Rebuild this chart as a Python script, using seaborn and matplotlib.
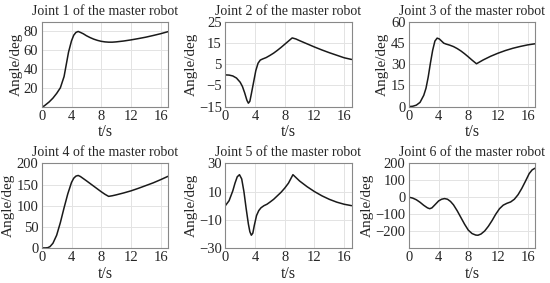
import numpy as np
import pandas as pd
import matplotlib
import matplotlib.pyplot as plt
import seaborn as sns

# values (t in s, angle in deg)
t1 = [0, 0.3, 1, 1.5, 2, 2.5, 3, 3.3, 3.6, 4, 4.3, 4.6, 4.9, 5.2, 5.6, 6, 6.5, 7, 7.5, 8, 8.5, 9, 9.5, 10, 11, 12, 13, 14, 15, 16, 17]
j1 = [0, 0.5, 5, 9, 14, 20, 32, 45, 58, 70, 76, 79, 80, 79, 77.5, 75.5, 73.5, 71.8, 70.5, 69.5, 68.9, 68.6, 68.6, 68.9, 69.8, 71, 72.4, 73.9, 75.7, 77.6, 79.8]

t2 = [0, 0.5, 1, 1.5, 2, 2.3, 2.6, 2.9, 3.1, 3.3, 3.5, 3.8, 4.1, 4.4, 4.7, 5, 5.5, 6, 6.5, 7, 7.5, 8, 8.5, 9, 9.5, 10, 11, 12, 13, 14, 15, 16, 17]
j2 = [0, -0.1, -0.5, -1.5, -3.5, -5.5, -8.5, -12, -13.4, -12.5, -9, -3.5, 2, 5.5, 7, 7.5, 8.2, 9.2, 10.3, 11.6, 13, 14.5, 16, 17.5, 17, 16.2, 14.7, 13.2, 11.8, 10.5, 9.3, 8.1, 7.3]

t3 = [0, 0.5, 1, 1.5, 2, 2.3, 2.6, 2.9, 3.2, 3.5, 3.8, 4.1, 4.4, 4.7, 5, 5.5, 6, 6.5, 7, 7.5, 8, 8.5, 9.1, 9.5, 10, 11, 12, 13, 14, 15, 16, 17]
j3 = [0, 0.2, 1, 3, 8, 13, 21, 31, 40, 46.5, 48.6, 48, 46.5, 45, 44.4, 43.6, 42.6, 41.2, 39.5, 37.5, 35.3, 33, 30.4, 31.6, 33.1, 35.7, 37.9, 39.8, 41.4, 42.7, 43.8, 44.6]

t4 = [0, 0.5, 0.8, 1.1, 1.5, 2, 2.5, 3, 3.5, 4, 4.3, 4.6, 4.9, 5.2, 5.6, 6, 6.5, 7, 7.5, 8, 8.5, 9, 9.5, 10, 11, 12, 13, 14, 15, 16, 17]
j4 = [0, 0, 0.5, 3, 11, 30, 60, 95, 128, 155, 165, 170, 171.5, 169, 164, 159, 152.5, 146, 139.5, 133, 127, 122, 123.5, 125.5, 130, 135, 141, 147.5, 154, 161.5, 169.5]

t5 = [0, 0.5, 1, 1.3, 1.6, 1.9, 2.2, 2.5, 2.8, 3.1, 3.3, 3.5, 3.7, 3.9, 4.2, 4.5, 4.8, 5.2, 5.6, 6, 6.5, 7, 7.5, 8, 8.5, 9.1, 9.5, 10, 11, 12, 13, 14, 15, 16, 17]
j5 = [0, 3.5, 10.5, 16, 20.5, 22, 19, 10, -2, -13, -18.5, -21, -19.5, -14, -7, -3.5, -1.5, 0, 1, 2.5, 4.5, 7, 9.5, 12.5, 16, 22, 20, 17.5, 13.5, 10, 7, 4.5, 2.5, 1, 0]

t6 = [0, 0.5, 1, 1.5, 2, 2.5, 2.8, 3.1, 3.5, 4, 4.4, 4.8, 5.2, 5.6, 6, 6.5, 7, 7.5, 8, 8.5, 9, 9.3, 9.7, 10.2, 10.7, 11.2, 11.7, 12.2, 12.7, 13.2, 13.7, 14.2, 14.7, 15.2, 15.7, 16.2, 16.6, 17]
j6 = [0, -5, -15, -30, -48, -63, -68, -63, -45, -22, -12, -8, -12, -25, -45, -80, -120, -160, -195, -215, -224, -225, -218, -200, -172, -138, -100, -68, -47, -36, -28, -12, 15, 52, 95, 140, 162, 172]

series = [(t1, j1), (t2, j2), (t3, j3), (t4, j4), (t5, j5), (t6, j6)]
ylims = [(0, 90), (-15, 25), (0, 60), (0, 200), (-30, 30), (-300, 200)]
yticks = [[20, 40, 60, 80], [-15, -5, 5, 15, 25], [0, 15, 30, 45, 60],
          [0, 50, 100, 150, 200], [-30, -10, 10, 30], [-200, -100, 0, 100, 200]]
xticks = [0, 4, 8, 12, 16]

sns.set_style("whitegrid")
plt.rcParams['font.family'] = ['Liberation Serif', 'DejaVu Serif']

fig, axs = plt.subplots(2, 3, figsize=(5.5, 2.83), dpi=100)
fig.subplots_adjust(left=0.076, right=0.973, top=0.922, bottom=0.124, wspace=0.454, hspace=0.673)

for i, ax in enumerate(axs.flat):
    t, j = series[i]
    df = pd.DataFrame({'t': t, 'angle': j})
    sns.lineplot(data=df, x='t', y='angle', ax=ax, color='#1a1a1a', linewidth=1.1)
    ax.set_xlim(0, 17)
    ax.set_ylim(*ylims[i])
    ax.set_xticks(xticks)
    ax.set_yticks(yticks[i])
    ax.set_yticklabels([str(v).replace('-', '\u2212') for v in yticks[i]])
    ax.set_title(f'Joint {i + 1} of the master robot', fontsize=10, pad=5)
    ax.set_xlabel('t/s', fontsize=11.5, labelpad=1)
    ax.set_ylabel('Angle/deg', fontsize=11, labelpad=1)
    ax.tick_params(labelsize=10.5, length=0, pad=2.5)
    ax.grid(True, color='#e3e3e3', linewidth=0.7)
    for s in ax.spines.values():
        s.set_color('#888888')
        s.set_linewidth(0.8)

fig.savefig('out.png', dpi=100)
